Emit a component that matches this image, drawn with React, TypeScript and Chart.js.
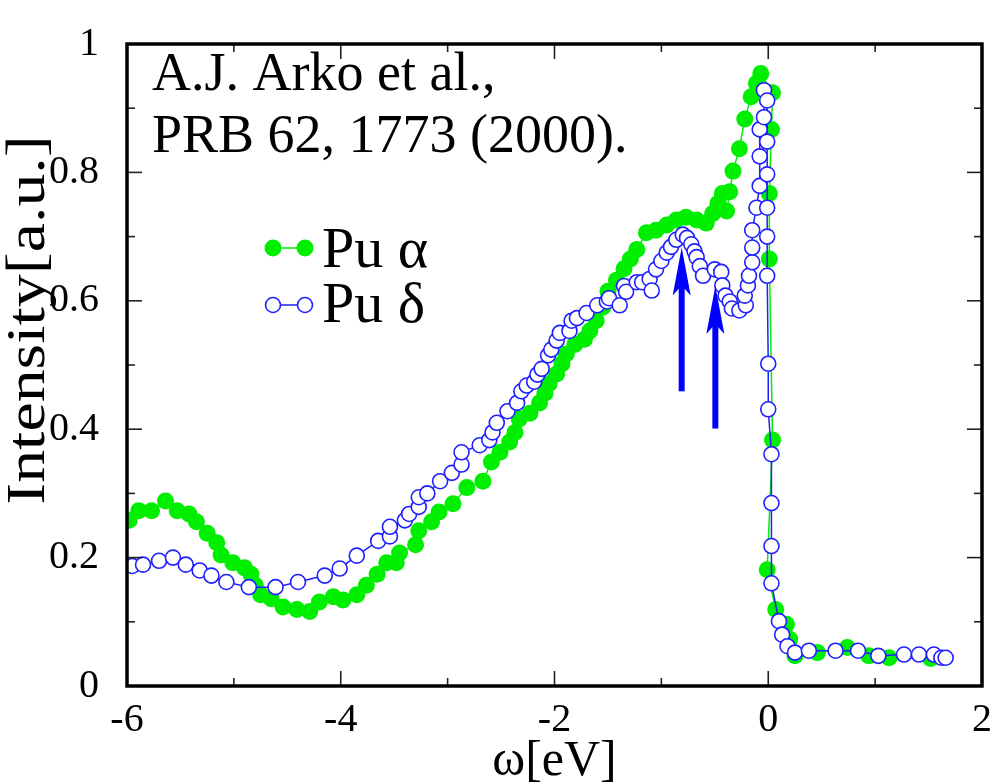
import React, { useEffect, useRef } from "react";
import { Chart, registerables } from "chart.js";

Chart.register(...registerables);

// Pu alpha (filled green circles)  [omega (eV), intensity]
const PU_ALPHA: [number, number][] = [
  [-5.98, 0.258], [-5.89, 0.273], [-5.77, 0.273], [-5.64, 0.288], [-5.53, 0.273],
  [-5.42, 0.268], [-5.35, 0.256], [-5.25, 0.238], [-5.16, 0.223], [-5.12, 0.204],
  [-5.01, 0.192], [-4.90, 0.184], [-4.84, 0.174], [-4.80, 0.157], [-4.75, 0.142],
  [-4.65, 0.136], [-4.54, 0.123], [-4.41, 0.119], [-4.29, 0.116], [-4.20, 0.131],
  [-4.07, 0.139], [-3.98, 0.134], [-3.85, 0.142], [-3.76, 0.157], [-3.66, 0.174],
  [-3.57, 0.192], [-3.48, 0.192], [-3.45, 0.207], [-3.30, 0.220], [-3.27, 0.242],
  [-3.15, 0.256], [-3.08, 0.271], [-2.95, 0.284], [-2.82, 0.309], [-2.67, 0.319],
  [-2.59, 0.349], [-2.51, 0.364], [-2.42, 0.380], [-2.37, 0.395], [-2.33, 0.416],
  [-2.23, 0.425], [-2.14, 0.441], [-2.09, 0.456], [-2.05, 0.471], [-1.98, 0.486],
  [-1.93, 0.502], [-1.89, 0.517], [-1.81, 0.532], [-1.72, 0.540], [-1.67, 0.553],
  [-1.61, 0.569], [-1.55, 0.590], [-1.50, 0.615], [-1.42, 0.632], [-1.35, 0.650],
  [-1.29, 0.665], [-1.23, 0.680], [-1.14, 0.706], [-1.05, 0.710], [-0.95, 0.718],
  [-0.86, 0.726], [-0.77, 0.730], [-0.67, 0.726], [-0.58, 0.721], [-0.52, 0.736],
  [-0.47, 0.752], [-0.43, 0.767], [-0.39, 0.740], [-0.36, 0.770], [-0.33, 0.802],
  [-0.27, 0.837], [-0.22, 0.883], [-0.16, 0.918], [-0.11, 0.939], [-0.07, 0.954],
  [0.04, 0.924], [0.03, 0.867], [0.01, 0.767], [0.01, 0.665], [0.04, 0.383],
  [-0.01, 0.181], [0.07, 0.119], [0.17, 0.096], [0.20, 0.073], [0.25, 0.047],
  [0.46, 0.052], [0.74, 0.060], [0.94, 0.047], [1.13, 0.044], [1.52, 0.043],
];

// Pu delta (open blue circles)
const PU_DELTA: [number, number][] = [
  [-5.95, 0.187], [-5.85, 0.189], [-5.70, 0.195], [-5.57, 0.200], [-5.45, 0.189],
  [-5.32, 0.180], [-5.21, 0.172], [-5.07, 0.162], [-4.86, 0.154], [-4.61, 0.154],
  [-4.40, 0.162], [-4.15, 0.172], [-4.01, 0.183], [-3.85, 0.203], [-3.65, 0.226],
  [-3.54, 0.233], [-3.54, 0.248], [-3.40, 0.258], [-3.36, 0.268], [-3.27, 0.279],
  [-3.27, 0.294], [-3.19, 0.300], [-3.07, 0.319], [-2.96, 0.332], [-2.87, 0.345],
  [-2.87, 0.364], [-2.70, 0.375], [-2.61, 0.383], [-2.58, 0.395], [-2.54, 0.410],
  [-2.44, 0.428], [-2.35, 0.441], [-2.31, 0.459], [-2.26, 0.468], [-2.19, 0.474],
  [-2.16, 0.485], [-2.12, 0.494], [-2.06, 0.515], [-2.03, 0.524], [-1.98, 0.538],
  [-1.95, 0.550], [-1.86, 0.553], [-1.84, 0.569], [-1.79, 0.573], [-1.70, 0.581],
  [-1.60, 0.593], [-1.51, 0.599], [-1.49, 0.604], [-1.39, 0.593], [-1.35, 0.623],
  [-1.33, 0.614], [-1.23, 0.629], [-1.18, 0.629], [-1.11, 0.634], [-1.09, 0.616],
  [-1.05, 0.649], [-1.00, 0.662], [-0.95, 0.675], [-0.91, 0.684], [-0.86, 0.695],
  [-0.80, 0.703], [-0.76, 0.698], [-0.72, 0.688], [-0.69, 0.677], [-0.67, 0.668],
  [-0.64, 0.654], [-0.61, 0.639], [-0.50, 0.649], [-0.44, 0.645], [-0.43, 0.624],
  [-0.40, 0.608], [-0.36, 0.599], [-0.34, 0.588], [-0.27, 0.585], [-0.21, 0.593],
  [-0.22, 0.608], [-0.19, 0.624], [-0.18, 0.639], [-0.15, 0.660], [-0.15, 0.683],
  [-0.15, 0.710], [-0.11, 0.745], [-0.08, 0.779], [-0.08, 0.825], [-0.08, 0.867],
  [-0.04, 0.886], [-0.04, 0.928], [-0.01, 0.912], [-0.01, 0.848], [-0.01, 0.797],
  [-0.01, 0.745], [-0.01, 0.700], [-0.01, 0.639], [0.00, 0.502], [0.00, 0.431],
  [0.03, 0.361], [0.03, 0.285], [0.03, 0.218], [0.03, 0.160], [0.10, 0.101],
  [0.13, 0.080], [0.18, 0.062], [0.25, 0.052], [0.38, 0.055], [0.63, 0.055],
  [0.84, 0.055], [1.03, 0.047], [1.27, 0.049], [1.41, 0.049], [1.55, 0.049],
  [1.62, 0.044], [1.66, 0.044],
];

const X_TICKS = [-6, -4, -2, 0, 2];
const X_MINOR = [-5, -3, -1, 1];
const Y_TICKS = [0, 0.2, 0.4, 0.6, 0.8, 1];
const Y_MINOR = [0.1, 0.3, 0.5, 0.7, 0.9];

// arrows: x position, tail and tip (intensity)
const ARROW_X = [-0.81, -0.495];
const ARROW_TAIL = [0.459, 0.401];
const ARROW_TIP = [0.683, 0.623];

const SERIES_LABELS = ["Pu α", "Pu δ"];
const NOTE_LINES = ["A.J. Arko et al.,", "PRB 62, 1773 (2000)."];
const X_TITLE = "ω[eV]";
const Y_TITLE = "Intensity[a.u.]";

const GREEN = "#00ee00";
const BLUE = "#1f1fff";
const SERIF = "'Liberation Serif', 'Times New Roman', 'DejaVu Serif', serif";

const decorPlugin = {
  id: "decor",
  afterDatasetsDraw(chart: any) {
    const { ctx, chartArea } = chart;
    const { left, right, top, bottom } = chartArea;
    const xs = chart.scales.x;
    const ys = chart.scales.y;
    ctx.save();

    const line = (x1: number, y1: number, x2: number, y2: number) => {
      ctx.beginPath();
      ctx.moveTo(x1, y1);
      ctx.lineTo(x2, y2);
      ctx.stroke();
    };

    // inward ticks on all four sides
    ctx.strokeStyle = "#222";
    ctx.lineWidth = 1.6;
    const major = 15;
    const minor = 8;
    X_TICKS.forEach((v) => {
      const p = xs.getPixelForValue(v);
      line(p, bottom, p, bottom - major);
      line(p, top, p, top + major);
    });
    X_MINOR.forEach((v) => {
      const p = xs.getPixelForValue(v);
      line(p, bottom, p, bottom - minor);
      line(p, top, p, top + minor);
    });
    Y_TICKS.forEach((v) => {
      const p = ys.getPixelForValue(v);
      line(left, p, left + major, p);
      line(right, p, right - major, p);
    });
    Y_MINOR.forEach((v) => {
      const p = ys.getPixelForValue(v);
      line(left, p, left + minor, p);
      line(right, p, right - minor, p);
    });

    // frame
    ctx.strokeStyle = "#000";
    ctx.lineWidth = 3.5;
    ctx.strokeRect(left, top, right - left, bottom - top);

    // arrows
    ARROW_X.forEach((xv, i) => {
      const px = xs.getPixelForValue(xv);
      const pTail = ys.getPixelForValue(ARROW_TAIL[i]);
      const pTip = ys.getPixelForValue(ARROW_TIP[i]);
      const headLen = 48;
      const headW = 9;
      ctx.strokeStyle = "#0000ff";
      ctx.fillStyle = "#0000ff";
      ctx.lineWidth = 6;
      line(px, pTail, px, pTip + headLen - 12);
      ctx.beginPath();
      ctx.moveTo(px, pTip);
      ctx.lineTo(px + headW, pTip + headLen);
      ctx.lineTo(px, pTip + headLen - 10);
      ctx.lineTo(px - headW, pTip + headLen);
      ctx.closePath();
      ctx.fill();
    });

    // legend
    const lx1 = 273;
    const lx2 = 305;
    const rowY = [248, 305];
    ctx.lineWidth = 1.5;
    ctx.strokeStyle = GREEN;
    line(lx1, rowY[0], lx2, rowY[0]);
    ctx.fillStyle = GREEN;
    [lx1, lx2].forEach((x) => {
      ctx.beginPath();
      ctx.arc(x, rowY[0], 8.5, 0, Math.PI * 2);
      ctx.fill();
    });
    ctx.strokeStyle = BLUE;
    line(lx1, rowY[1], lx2, rowY[1]);
    [lx1, lx2].forEach((x) => {
      ctx.beginPath();
      ctx.arc(x, rowY[1], 7.5, 0, Math.PI * 2);
      ctx.fillStyle = "#fff";
      ctx.fill();
      ctx.lineWidth = 1.6;
      ctx.stroke();
    });
    ctx.fillStyle = "#000";
    ctx.font = `58px ${SERIF}`;
    ctx.textAlign = "left";
    ctx.textBaseline = "alphabetic";
    ctx.fillText(SERIES_LABELS[0], 322, 267);
    ctx.fillText(SERIES_LABELS[1], 322, 322);

    // annotation
    ctx.font = `54px ${SERIF}`;
    ctx.fillText(NOTE_LINES[0], 152, 90);
    ctx.fillText(NOTE_LINES[1], 152, 152);

    // axis titles
    ctx.font = `50px ${SERIF}`;
    ctx.textAlign = "center";
    ctx.fillText(X_TITLE, (left + right) / 2, 775);

    ctx.save();
    ctx.translate(30, 320);
    ctx.rotate(-Math.PI / 2);
    ctx.scale(1.22, 1);
    ctx.font = `54px ${SERIF}`;
    ctx.textAlign = "center";
    ctx.textBaseline = "middle";
    ctx.fillText(Y_TITLE, 0, 0);
    ctx.restore();

    ctx.restore();
  },
};

export default function App() {
  const canvasRef = useRef<HTMLCanvasElement | null>(null);

  useEffect(() => {
    const canvas = canvasRef.current;
    if (!canvas) return;
    const fmtY = (v: number) => (v === 0 ? "0" : v === 1 ? "1" : v.toFixed(1));
    const chart = new Chart(canvas, {
      type: "scatter",
      data: {
        datasets: [
          {
            label: SERIES_LABELS[1],
            data: PU_DELTA.map(([x, y]) => ({ x, y })),
            showLine: true,
            borderColor: BLUE,
            borderWidth: 1.5,
            pointRadius: 7.5,
            pointBackgroundColor: "#ffffff",
            pointBorderColor: BLUE,
            pointBorderWidth: 1.6,
            order: 0,
          },
          {
            label: SERIES_LABELS[0],
            data: PU_ALPHA.map(([x, y]) => ({ x, y })),
            showLine: true,
            borderColor: GREEN,
            borderWidth: 1.5,
            pointRadius: 8.5,
            pointBackgroundColor: GREEN,
            pointBorderColor: GREEN,
            pointBorderWidth: 0,
            order: 1,
          },
        ],
      },
      options: {
        animation: false,
        responsive: false,
        devicePixelRatio: 1,
        layout: { padding: { top: 30, right: 11, left: 0, bottom: 0 } },
        plugins: {
          legend: { display: false },
          tooltip: { enabled: false },
          title: { display: false },
        },
        scales: {
          x: {
            type: "linear",
            min: -6,
            max: 2,
            afterBuildTicks: (s: any) => {
              s.ticks = X_TICKS.map((v) => ({ value: v }));
            },
            afterFit: (s: any) => {
              s.height = 98;
            },
            grid: { display: false },
            border: { display: false },
            ticks: {
              color: "#000",
              font: { family: SERIF, size: 40 },
              padding: 2,
              maxRotation: 0,
              autoSkip: false,
              callback: (v: any) => String(v),
            },
          },
          y: {
            type: "linear",
            min: 0,
            max: 1,
            afterBuildTicks: (s: any) => {
              s.ticks = Y_TICKS.map((v) => ({ value: v }));
            },
            afterFit: (s: any) => {
              s.width = 127;
            },
            grid: { display: false },
            border: { display: false },
            ticks: {
              color: "#000",
              font: { family: SERIF, size: 40 },
              padding: 20,
              autoSkip: false,
              callback: (v: any) => fmtY(Number(v)),
            },
          },
        },
      },
      plugins: [decorPlugin],
    } as any);
    return () => chart.destroy();
  }, []);

  return (
    <div style={{ position: "absolute", left: 0, top: 0, width: 994, height: 784, background: "#fff" }}>
      <canvas ref={canvasRef} width={994} height={784} style={{ display: "block" }} />
    </div>
  );
}
